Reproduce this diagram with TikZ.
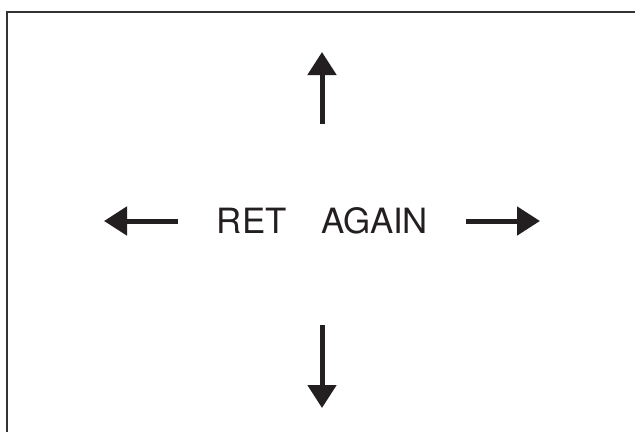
\documentclass[tikz,border=0pt]{standalone}
\usepackage{fontspec}
\setmainfont{TeX Gyre Heros}
\usetikzlibrary{arrows.meta}
\definecolor{ink}{HTML}{231F20}
\definecolor{framec}{HTML}{333333}
\tikzset{
  bigarrow/.style={draw=ink, line width=5pt, -{Triangle[length=23pt,width=28pt]}, fill=ink},
  frameline/.style={draw=framec, line width=2pt},
  label/.style={inner sep=0pt, text=ink, font=\fontsize{34.8pt}{40pt}\selectfont}
}
\begin{document}
\begin{tikzpicture}[x=1pt,y=-1pt]
\useasboundingbox (0,0) rectangle (635,432);
\fill[white] (0,0) rectangle (635,432);
\draw[frameline] (7,432) -- (7,12) -- (635,12);
\node[label, anchor=base] (t) at (322.5,233) {RET\hspace*{34.5pt}AGAIN};
\coordinate (us) at (322,124); \coordinate (ue) at (322,52);
\coordinate (ds) at (322,325); \coordinate (de) at (322,408);
\coordinate (ls) at (178,221); \coordinate (le) at (104,221);
\coordinate (rs) at (466,221); \coordinate (re) at (540,221);
\draw[bigarrow] (us) -- (ue);
\draw[bigarrow] (ds) -- (de);
\draw[bigarrow] (ls) -- (le);
\draw[bigarrow] (rs) -- (re);
\end{tikzpicture}
\end{document}
